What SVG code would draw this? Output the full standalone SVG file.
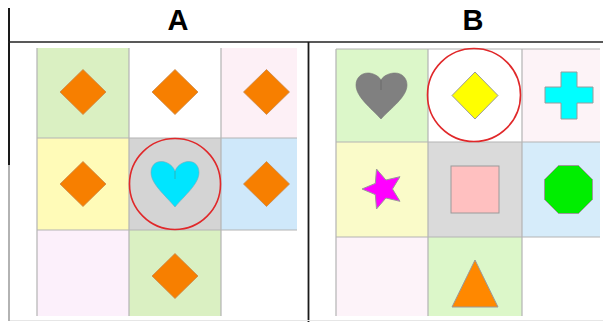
<svg xmlns="http://www.w3.org/2000/svg" width="603" height="322" viewBox="0 0 603 322">
<style>
.grid{stroke:#b4b4b4;stroke-width:1.2;fill:none}
.dia{fill:#f77f00;stroke:#c8884a;stroke-width:0.8}
.ring{fill:none;stroke:#e0282a;stroke-width:1.6}
.hdr{font-family:"Liberation Sans",Arial,sans-serif;font-weight:bold;font-size:29px;fill:#000;text-anchor:middle}
.shp{stroke:#9a9a9a;stroke-width:1}
</style>
<rect width="603" height="322" fill="#fff"/>
<g id="table">
<line x1="9" y1="8" x2="9" y2="165" stroke="#1a1a1a" stroke-width="2"/>
<line x1="9" y1="165" x2="9" y2="321" stroke="#9a9a9a" stroke-width="1.5"/>
<line x1="8" y1="42" x2="603" y2="42" stroke="#222" stroke-width="1.6"/>
<line x1="308.5" y1="42" x2="308.5" y2="322" stroke="#1a1a1a" stroke-width="1.8"/>
<line x1="10" y1="320.5" x2="603" y2="320.5" stroke="#e6e6e6" stroke-width="1"/>
<text class="hdr" x="178" y="29.5">A</text>
<text class="hdr" x="473" y="29.5">B</text>
</g>
<g id="gridA">
<g id="a11"><rect x="37" y="48" width="92" height="90" fill="#daf0c2"/><polygon class="dia" points="83,69.5 106,92 83,114.5 60,92"/></g>
<g id="a12"><rect x="129" y="48" width="92" height="90" fill="#fff"/><polygon class="dia" points="175,69.5 198,92 175,114.5 152,92"/></g>
<g id="a13"><rect x="221" y="48" width="76" height="90" fill="#fdf0f6"/><polygon class="dia" points="266.5,69.5 289.5,92 266.5,114.5 243.5,92"/></g>
<g id="a21"><rect x="37" y="138" width="92" height="92" fill="#fffbb8"/><polygon class="dia" points="83,161.5 106,184 83,206.5 60,184"/></g>
<g id="a22"><rect x="129" y="138" width="92" height="92" fill="#d4d4d4"/>
<path d="M175,171 C172,164 166,161.5 161,161.5 C155,161.5 151,166 151,172.5 C151,184 165,195 175,207 C185,195 199,184 199,172.5 C199,166 195,161.5 189,161.5 C184,161.5 178,164 175,171 Z" fill="#00e5ff" stroke="#7ab" stroke-width="0.6"/>
<line x1="175" y1="171" x2="175" y2="179" stroke="#3aa" stroke-width="0.8"/></g>
<g id="a23"><rect x="221" y="138" width="76" height="92" fill="#cfe8fa"/><polygon class="dia" points="266.5,161.5 289.5,184 266.5,206.5 243.5,184"/></g>
<g id="a31"><rect x="37" y="230" width="92" height="86" fill="#fcf0fb"/></g>
<g id="a32"><rect x="129" y="230" width="92" height="86" fill="#daf0c2"/><polygon class="dia" points="175,253.5 198,276 175,298.5 152,276"/></g>
<path class="grid" d="M37,48V316 M129,48V316 M221,48V316 M37,138H297 M37,230H297"/>
<circle class="ring" cx="175" cy="184" r="45.5"/>
</g>
<g id="gridB">
<g id="b11"><rect x="336" y="49" width="92" height="93" fill="#dcf7c9"/>
<path d="M381,80 C378,75 372,73 368,73 C361,73 356,78 356,85 C356,97 371,108 381,119 C391,108 407,97 407,85 C407,78 402,73 395,73 C390,73 384,75 381,80 Z" fill="#808080" stroke="#777" stroke-width="0.6"/>
<line x1="381" y1="80" x2="381" y2="90" stroke="#666" stroke-width="0.8"/></g>
<g id="b12"><rect x="428" y="49" width="94" height="93" fill="#fff"/>
<polygon class="shp" points="475,72 498,95.5 475,119 452,95.5" fill="#ffff00"/></g>
<g id="b13"><rect x="522" y="49" width="78" height="93" fill="#fdf3f7"/>
<polygon class="shp" points="561,72 577,72 577,87 593,87 593,103 577,103 577,119 561,119 561,103 545,103 545,87 561,87" fill="#00ffff"/></g>
<g id="b21"><rect x="336" y="142" width="92" height="95" fill="#fafbc9"/>
<polygon class="shp" points="376.5,169 385.9,180 400,176.7 392.5,189 400,201.3 385.9,198 376.5,209 375.3,194.6 362,189 375.3,183.4" fill="#ff00ff"/></g>
<g id="b22"><rect x="428" y="142" width="94" height="95" fill="#dadada"/>
<rect class="shp" x="451" y="166" width="48" height="47" fill="#ffc0c0"/></g>
<g id="b23"><rect x="522" y="142" width="78" height="95" fill="#d6ecfa"/>
<polygon class="shp" points="558.5,165.5 578.5,165.5 592.5,179.5 592.5,199.5 578.5,213.5 558.5,213.5 544.5,199.5 544.5,179.5" fill="#00ee00"/></g>
<g id="b31"><rect x="336" y="237" width="92" height="79" fill="#fdf3f9"/></g>
<g id="b32"><rect x="428" y="237" width="94" height="79" fill="#dcf7c9"/>
<polygon class="shp" points="475,260 498,307 452,307" fill="#ff8800"/></g>
<path class="grid" d="M336,49V316 M428,49V316 M522,49V316 M336,49H600 M336,142H600 M336,237H600"/>
<circle class="ring" cx="474" cy="95" r="46.5"/>
</g>
</svg>
